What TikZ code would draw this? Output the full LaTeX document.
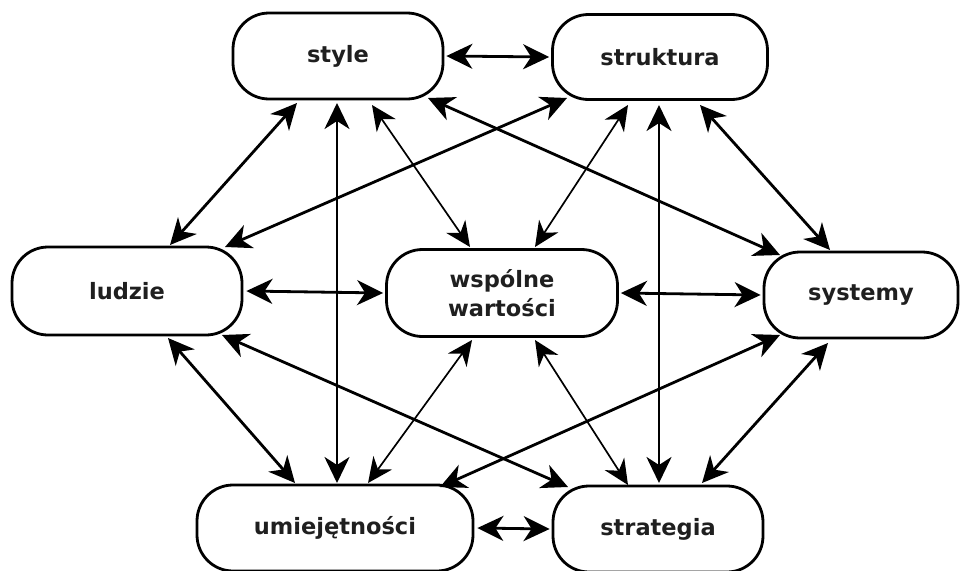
\documentclass[tikz,border=0pt]{standalone}
\usepackage{fontspec}
\setmainfont{DejaVu Sans}
\usetikzlibrary{arrows.meta}
\begin{document}
\begin{tikzpicture}[x=1pt,y=-1pt,
  box/.style={draw, line width=2.8pt, rounded corners=36pt, align=center,
    inner sep=0pt, font=\fontsize{22.5}{29}\selectfont\bfseries, text=black!88},
  link/.style={line width=2.8pt, {Stealth[length=26pt 0 0,width=25pt 0 0,inset=8pt 0]}-{Stealth[length=26pt 0 0,width=25pt 0 0,inset=8pt 0]}},
  thinlink/.style={line width=1.7pt, {Stealth[length=25pt 0 0,width=23pt 0 0,inset=8pt 0]}-{Stealth[length=25pt 0 0,width=23pt 0 0,inset=8pt 0]}}]
\useasboundingbox (0,0) rectangle (963,570);
\clip (0,0) rectangle (963,570);

% the seven elements
\node[box, minimum width=210pt, minimum height=86pt] (style) at (338,56) {style};
\node[box, minimum width=215pt, minimum height=85pt] (struktura) at (660,57) {struktura};
\node[box, minimum width=230pt, minimum height=88pt] (ludzie) at (127,291) {ludzie};
\node[box, minimum width=231pt, minimum height=87pt] (wartosci) at (502,293) {wspólne\\wartości};
\node[box, minimum width=194pt, minimum height=86pt] (systemy) at (861,295) {systemy};
\node[box, minimum width=276pt, minimum height=86pt] (umiejetnosci) at (335,528) {umiejętności};
\node[box, minimum width=210pt, minimum height=86pt] (strategia) at (658,529) {strategia};

% horizontal links
\draw[link] ([xshift=2pt]style.east) -- ([xshift=-2pt]struktura.west);
\draw[link] ([xshift=3pt]ludzie.east) -- ([xshift=-2pt]wartosci.west);
\draw[link] ([xshift=2pt]wartosci.east) -- ([xshift=-2pt]systemy.west);
\draw[link] ([xshift=3pt]umiejetnosci.east) -- ([xshift=-2pt]strategia.west);

% vertical links
\draw[link] ([shift={(-1,47)}]style.center) -- ([shift={(2,-45)}]umiejetnosci.center);
\draw[link] ([shift={(-1,48)}]struktura.center) -- ([shift={(1,-46)}]strategia.center);

% diagonal links
\draw[link] ([shift={(-41,47)}]style.center) -- ([shift={(43,-46)}]ludzie.center);
\draw[link] ([shift={(90,42)}]style.center) -- ([shift={(-81,-40)}]systemy.center);
\draw[link] ([shift={(-93,41)}]struktura.center) -- ([shift={(98,-44)}]ludzie.center);
\draw[link] ([shift={(40,48)}]struktura.center) -- ([shift={(-31,-45)}]systemy.center);
\draw[link] ([shift={(41,47)}]ludzie.center) -- ([shift={(-40,-45)}]umiejetnosci.center);
\draw[link] ([shift={(95,44)}]ludzie.center) -- ([shift={(-90,-42)}]strategia.center);
\draw[link] ([shift={(-81,40)}]systemy.center) -- ([shift={(105,-41)}]umiejetnosci.center);
\draw[link] ([shift={(-33,48)}]systemy.center) -- ([shift={(44,-46)}]strategia.center);

% thin links to the shared values
\draw[thinlink] ([shift={(34,49)}]style.center) -- ([shift={(-32,-46)}]wartosci.center);
\draw[thinlink] ([shift={(-32,48)}]struktura.center) -- ([shift={(33,-46)}]wartosci.center);
\draw[thinlink] ([shift={(-30,47)}]wartosci.center) -- ([shift={(33,-45)}]umiejetnosci.center);
\draw[thinlink] ([shift={(33,47)}]wartosci.center) -- ([shift={(-30,-44)}]strategia.center);
\end{tikzpicture}
\end{document}
